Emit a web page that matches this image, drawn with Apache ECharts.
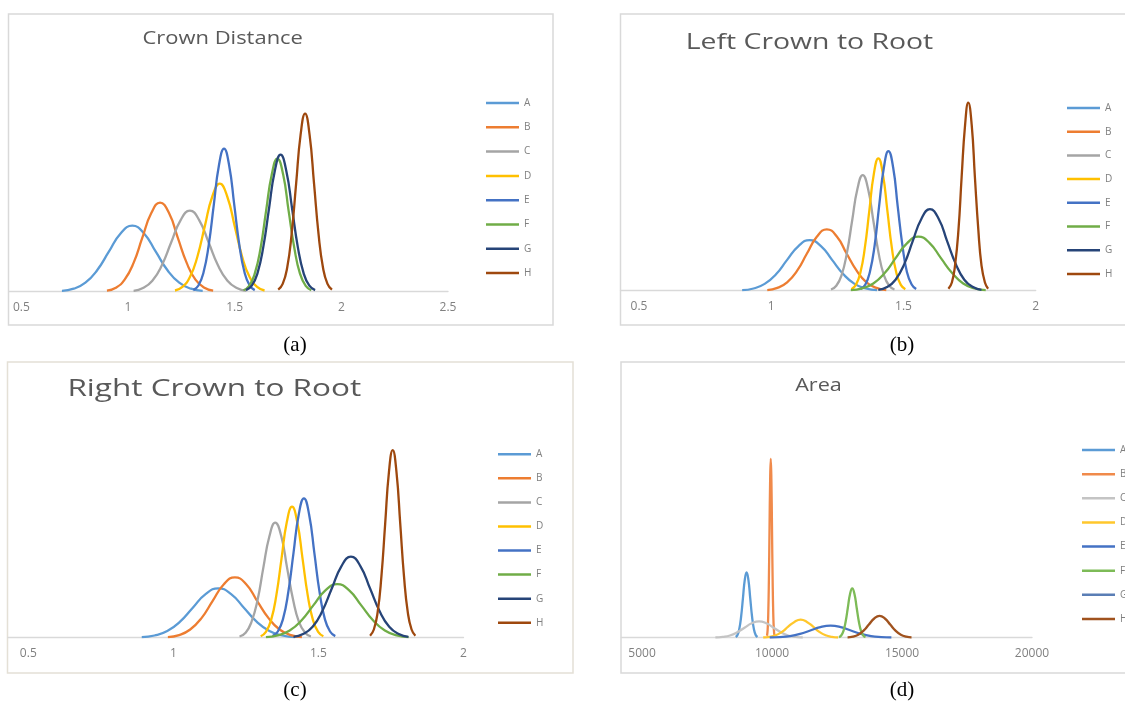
<!DOCTYPE html>
<html>
<head>
<meta charset="utf-8">
<script src="https://cdn.jsdelivr.net/npm/echarts@6/dist/echarts.min.js"></script>
<style>
html,body{margin:0;padding:0;background:#fff;overflow:hidden;}
#chart{width:1125px;height:707px;}
</style>
</head>
<body>
<div id="chart"></div>
<script>
// ---- series names and colours ----
const seriesNames = ['A','B','C','D','E','F','G','H'];
const paletteMain = ['#5B9BD5','#ED7D31','#A5A5A5','#FFC000','#4472C4','#70AD47','#264478','#9E480E'];
const paletteArea = ['#5B9BD5','#F08A4B','#C4C4C4','#FFC72C','#4472C4','#7DBB57','#5A7EB5','#A0521E'];

// ---- titles, captions, tick step ----
const panelTitles = ['Crown Distance','Left Crown to Root','Right Crown to Root','Area'];
const panelCaptions = ['(a)','(b)','(c)','(d)'];
const tickSteps = [0.5, 0.5, 0.5, 5000];

// ---- (a) Crown Distance: x values and heights per curve ----
const crownX = [
 [0.69,0.745,0.80,0.855,0.91,0.965,1.02,1.075,1.13,1.185,1.24,1.295,1.35],
 [0.901,0.943,0.984,1.026,1.067,1.109,1.15,1.192,1.233,1.275,1.316,1.358,1.399],
 [1.026,1.07,1.114,1.158,1.202,1.246,1.29,1.334,1.378,1.422,1.466,1.51,1.554],
 [1.22,1.255,1.29,1.325,1.36,1.395,1.43,1.465,1.50,1.535,1.57,1.605,1.64],
 [1.306,1.33,1.354,1.378,1.402,1.426,1.45,1.474,1.498,1.522,1.546,1.57,1.594],
 [1.541,1.568,1.594,1.621,1.647,1.674,1.70,1.727,1.753,1.78,1.806,1.833,1.859],
 [1.553,1.58,1.607,1.634,1.661,1.688,1.715,1.742,1.769,1.796,1.823,1.85,1.877],
 [1.704,1.725,1.746,1.767,1.788,1.809,1.83,1.851,1.872,1.893,1.914,1.935,1.956]
];
const crownY = [
 [0.04,0.15,0.45,1.07,2.0,2.91,3.3,2.91,2.0,1.07,0.45,0.15,0.04],
 [0.05,0.2,0.6,1.44,2.7,3.93,4.45,3.93,2.7,1.44,0.6,0.2,0.05],
 [0.04,0.18,0.55,1.31,2.46,3.57,4.05,3.57,2.46,1.31,0.55,0.18,0.04],
 [0.06,0.24,0.73,1.75,3.28,4.76,5.4,4.76,3.28,1.75,0.73,0.24,0.06],
 [0.08,0.31,0.97,2.32,4.34,6.31,7.15,6.31,4.34,2.32,0.97,0.31,0.08],
 [0.07,0.29,0.9,2.16,4.03,5.87,6.65,5.87,4.03,2.16,0.9,0.29,0.07],
 [0.08,0.3,0.93,2.23,4.16,6.04,6.85,6.04,4.16,2.23,0.93,0.3,0.08],
 [0.1,0.39,1.2,2.89,5.4,7.85,8.9,7.85,5.4,2.89,1.2,0.39,0.1]
];

// ---- (b) Left Crown to Root ----
const leftX = [
 [0.89,0.933,0.975,1.018,1.06,1.103,1.145,1.188,1.23,1.273,1.315,1.358,1.40],
 [0.985,1.023,1.06,1.098,1.135,1.173,1.21,1.248,1.285,1.323,1.36,1.398,1.435],
 [1.226,1.246,1.266,1.286,1.306,1.326,1.346,1.366,1.386,1.406,1.426,1.446,1.466],
 [1.303,1.32,1.337,1.354,1.371,1.388,1.405,1.422,1.439,1.456,1.473,1.49,1.507],
 [1.338,1.356,1.373,1.391,1.408,1.426,1.443,1.461,1.478,1.496,1.513,1.531,1.548],
 [1.301,1.344,1.386,1.429,1.471,1.514,1.556,1.599,1.641,1.684,1.726,1.769,1.811],
 [1.405,1.438,1.47,1.503,1.535,1.568,1.60,1.633,1.665,1.698,1.73,1.763,1.795],
 [1.67,1.683,1.695,1.708,1.72,1.733,1.745,1.758,1.77,1.783,1.795,1.808,1.82]
];
const leftY = [
 [0.03,0.11,0.34,0.82,1.54,2.23,2.53,2.23,1.54,0.82,0.34,0.11,0.03],
 [0.03,0.14,0.42,1.0,1.86,2.71,3.07,2.71,1.86,1.0,0.42,0.14,0.03],
 [0.06,0.25,0.78,1.88,3.51,5.1,5.78,5.1,3.51,1.88,0.78,0.25,0.06],
 [0.07,0.29,0.9,2.15,4.02,5.84,6.62,5.84,4.02,2.15,0.9,0.29,0.07],
 [0.08,0.31,0.94,2.27,4.24,6.16,6.98,6.16,4.24,2.27,0.94,0.31,0.08],
 [0.03,0.12,0.36,0.88,1.64,2.38,2.7,2.38,1.64,0.88,0.36,0.12,0.03],
 [0.04,0.18,0.55,1.33,2.48,3.6,4.08,3.6,2.48,1.33,0.55,0.18,0.04],
 [0.1,0.41,1.27,3.05,5.7,8.29,9.4,8.29,5.7,3.05,1.27,0.41,0.1]
];

// ---- (c) Right Crown to Root ----
const rightX = [
 [0.891,0.935,0.979,1.023,1.067,1.111,1.155,1.199,1.243,1.287,1.331,1.375,1.419],
 [0.981,1.02,1.058,1.097,1.135,1.174,1.212,1.251,1.289,1.328,1.366,1.405,1.443],
 [1.228,1.249,1.269,1.29,1.31,1.331,1.351,1.372,1.392,1.413,1.433,1.454,1.474],
 [1.301,1.319,1.337,1.355,1.373,1.391,1.409,1.427,1.445,1.463,1.481,1.499,1.517],
 [1.342,1.36,1.378,1.396,1.414,1.432,1.45,1.468,1.486,1.504,1.522,1.54,1.558],
 [1.319,1.36,1.401,1.442,1.483,1.524,1.565,1.606,1.647,1.688,1.729,1.77,1.811],
 [1.414,1.447,1.48,1.513,1.546,1.579,1.612,1.645,1.678,1.711,1.744,1.777,1.81],
 [1.678,1.691,1.704,1.717,1.73,1.743,1.756,1.769,1.782,1.795,1.808,1.821,1.834]
];
const rightY = [
 [0.03,0.11,0.33,0.8,1.5,2.18,2.47,2.18,1.5,0.8,0.33,0.11,0.03],
 [0.03,0.13,0.41,0.98,1.83,2.67,3.02,2.67,1.83,0.98,0.41,0.13,0.03],
 [0.06,0.25,0.78,1.87,3.49,5.07,5.75,5.07,3.49,1.87,0.78,0.25,0.06],
 [0.07,0.29,0.89,2.13,3.98,5.78,6.55,5.78,3.98,2.13,0.89,0.29,0.07],
 [0.08,0.31,0.94,2.27,4.23,6.15,6.97,6.15,4.23,2.27,0.94,0.31,0.08],
 [0.03,0.12,0.36,0.87,1.63,2.37,2.68,2.37,1.63,0.87,0.36,0.12,0.03],
 [0.04,0.18,0.55,1.32,2.46,3.57,4.05,3.57,2.46,1.32,0.55,0.18,0.04],
 [0.1,0.41,1.27,3.05,5.69,8.28,9.38,8.28,5.69,3.05,1.27,0.41,0.1]
];

// ---- (d) Area ----
const areaX = [
 [8600,8670,8740,8810,8880,8950,9020,9090,9160,9230,9300,9370,9440],
 [9806,9830,9854,9878,9902,9926,9950,9974,9998,10022,10046,10070,10094],
 [7820,8100,8380,8660,8940,9220,9500,9780,10060,10340,10620,10900,11180],
 [9660,9900,10140,10380,10620,10860,11100,11340,11580,11820,12060,12300,12540],
 [9910,10300,10690,11080,11470,11860,12250,12640,13030,13420,13810,14200,14590],
 [12575,12660,12745,12830,12915,13000,13085,13170,13255,13340,13425,13510,13595],
 [],
 [12905,13110,13315,13520,13725,13930,14135,14340,14545,14750,14955,15160,15365]
];
const areaY = [
 [0.04,0.14,0.44,1.06,1.98,2.89,3.27,2.89,1.98,1.06,0.44,0.14,0.04],
 [0.1,0.39,1.21,2.9,5.42,7.89,8.94,7.89,5.42,2.9,1.21,0.39,0.1],
 [0.01,0.04,0.11,0.27,0.5,0.72,0.82,0.72,0.5,0.27,0.11,0.04,0.01],
 [0.01,0.04,0.12,0.29,0.55,0.79,0.9,0.79,0.55,0.29,0.12,0.04,0.01],
 [0.01,0.03,0.08,0.19,0.36,0.53,0.6,0.53,0.36,0.19,0.08,0.03,0.01],
 [0.03,0.11,0.33,0.8,1.5,2.18,2.47,2.18,1.5,0.8,0.33,0.11,0.03],
 [],
 [0.01,0.05,0.15,0.35,0.66,0.96,1.09,0.96,0.66,0.35,0.15,0.05,0.01]
];

// ---- layout (pixels) ----
const panels = [
  {xs: crownX, ys: crownY, colors: paletteMain, grid:{left:8.6, top:91.7, width:439.4, height:200}, xmin:0.44, xmax:2.5,
   legend:{left:486, top:96, gap:10.3}, title:{x:222.7, y:39, size:18, sx:1.22}, frame:{x:8.5,y:14,w:544.5,h:311,c:'#D9D9D9'}, cap:{x:295,y:345}},
  {xs: leftX, ys: leftY, colors: paletteMain, grid:{left:620.5, top:90.7, width:415.2, height:200}, xmin:0.43, xmax:2.0,
   legend:{left:1067, top:101, gap:9.7}, title:{x:809.5, y:42.3, size:22, sx:1.29}, frame:{x:620.5,y:14,w:520,h:311,c:'#D9D9D9'}, cap:{x:902,y:345}},
  {xs: rightX, ys: rightY, colors: paletteMain, grid:{left:8, top:437.7, width:455.5, height:200}, xmin:0.43, xmax:2.0,
   legend:{left:498, top:447.3, gap:10.06}, title:{x:214.3, y:389.3, size:23, sx:1.37}, frame:{x:7.5,y:362,w:565.5,h:311,c:'#E4E0D6'}, cap:{x:295,y:690}},
  {xs: areaX, ys: areaY, colors: paletteArea, grid:{left:621.3, top:437.7, width:410.7, height:200}, xmin:4200, xmax:20000,
   legend:{left:1082, top:443, gap:10.14}, title:{x:818.5, y:385.7, size:18, sx:1.2}, frame:{x:621,y:362,w:520,h:311,c:'#D9D9D9'}, cap:{x:902,y:690}}
];

const grids = [], xAxes = [], yAxes = [], legends = [], series = [], graphics = [];

panels.forEach((p, i) => {
  grids.push(Object.assign({containLabel:false, outerBoundsMode:'none'}, p.grid));
  const step = tickSteps[i];
  xAxes.push({
    type:'value', gridIndex:i, min:p.xmin, max:p.xmax, minInterval:step, maxInterval:step,
    axisLine:{show:true, onZero:false, lineStyle:{color:'#D9D9D9', width:1.3}},
    axisTick:{show:false}, splitLine:{show:false},
    axisLabel:{margin:10, fontSize:12, color:'#808080', fontFamily:'"Open Sans", sans-serif',
      formatter: v => (Math.abs(v/step - Math.round(v/step)) < 1e-6 ? String(v) : '')}
  });
  yAxes.push({type:'value', gridIndex:i, min:0, max:10, show:false, splitLine:{show:false}});
  legends.push({
    orient:'vertical', left:p.legend.left, top:p.legend.top, padding:0, itemGap:p.legend.gap,
    icon:'rect', itemWidth:33, itemHeight:2.5,
    textStyle:{fontSize:10, lineHeight:14, color:'#808080', fontFamily:'"Open Sans", sans-serif'},
    data: seriesNames.map((n, k) => ({name:n, itemStyle:{color:p.colors[k]}}))
  });
  seriesNames.forEach((n, k) => {
    series.push({
      name:n, type:'line', xAxisIndex:i, yAxisIndex:i, smooth:true, showSymbol:false, symbol:'none',
      color:p.colors[k], lineStyle:{width:2.3, color:p.colors[k]}, silent:true,
      data: p.xs[k].map((x, j) => [x, p.ys[k][j]])
    });
  });
  graphics.push({type:'rect', z:-10, shape:{x:p.frame.x, y:p.frame.y, width:p.frame.w, height:p.frame.h},
    style:{fill:'#ffffff', stroke:p.frame.c, lineWidth:1.5}});
  graphics.push({type:'text', x:p.title.x, y:p.title.y, scaleX:p.title.sx,
    style:{text:panelTitles[i], fontSize:p.title.size, fontFamily:'"Open Sans", sans-serif', fill:'#595959', align:'center', verticalAlign:'middle'}});
  graphics.push({type:'text', x:p.cap.x, y:p.cap.y,
    style:{text:panelCaptions[i], fontSize:21, fontFamily:'"Liberation Serif", serif', fill:'#000000', align:'center', verticalAlign:'middle'}});
});

const chart = echarts.init(document.getElementById('chart'), null, {renderer:'canvas'});
chart.setOption({
  backgroundColor:'#ffffff',
  animation:false,
  grid:grids, xAxis:xAxes, yAxis:yAxes, legend:legends, series:series, graphic:graphics
});
</script>
</body>
</html>
